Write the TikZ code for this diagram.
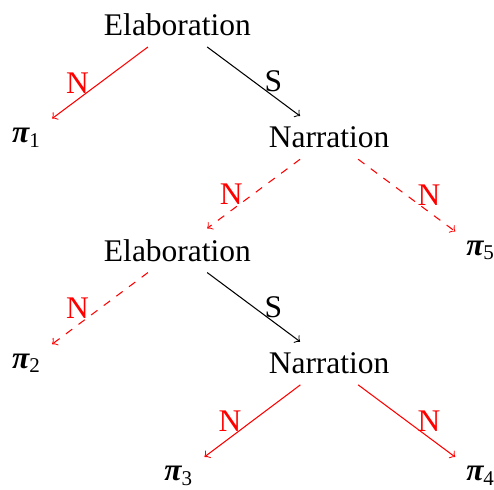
\documentclass[tikz,border=0pt,12pt]{standalone}
\usepackage{fontspec}
\setmainfont{Liberation Serif}
\usetikzlibrary{positioning}
\newcommand{\pisym}[1]{{\bfseries\itshape π}\textsubscript{#1}}

\begin{document}
\begin{tikzpicture}[
      rel/.style={inner sep=0.3333em},
      nucl/.style={->,red},
      sat/.style={->,black},
      lbl/.style={midway,text=red}]
    \useasboundingbox (-2.376,0.333) rectangle (4.237,-6.214);
    \node[rel] (elab1) at (0,0) {Elaboration};
    \node (p1) at (-2.02,-1.51) {\pisym{1}};
    \node[rel] (narr1) at (2.03,-1.51) {Narration};
    \node[rel] (elab2) at (0,-3.02) {Elaboration};
    \node (p5) at (4.06,-3.02) {\pisym{5}};
    \node (p2) at (-2.02,-4.53) {\pisym{2}};
    \node[rel] (narr2) at (2.03,-4.53) {Narration};
    \node (p3) at (0.02,-6.04) {\pisym{3}};
    \node (p4) at (4.06,-6.04) {\pisym{4}};
    \draw[nucl] (elab1) -- node[lbl,left] {N} (p1);
    \draw[sat] (elab1) -- node[midway,right] {S} (narr1);
    \draw[nucl,dashed] (narr1) -- node[lbl,left] {N} (elab2);
    \draw[nucl,dashed] (narr1) -- node[lbl,right] {N} (p5);
    \draw[nucl,dashed] (elab2) -- node[lbl,left] {N} (p2);
    \draw[sat] (elab2) -- node[midway,right] {S} (narr2);
    \draw[nucl] (narr2) -- node[lbl,left] {N} (p3);
    \draw[nucl] (narr2) -- node[lbl,right] {N} (p4);
  \end{tikzpicture}
\end{document}
